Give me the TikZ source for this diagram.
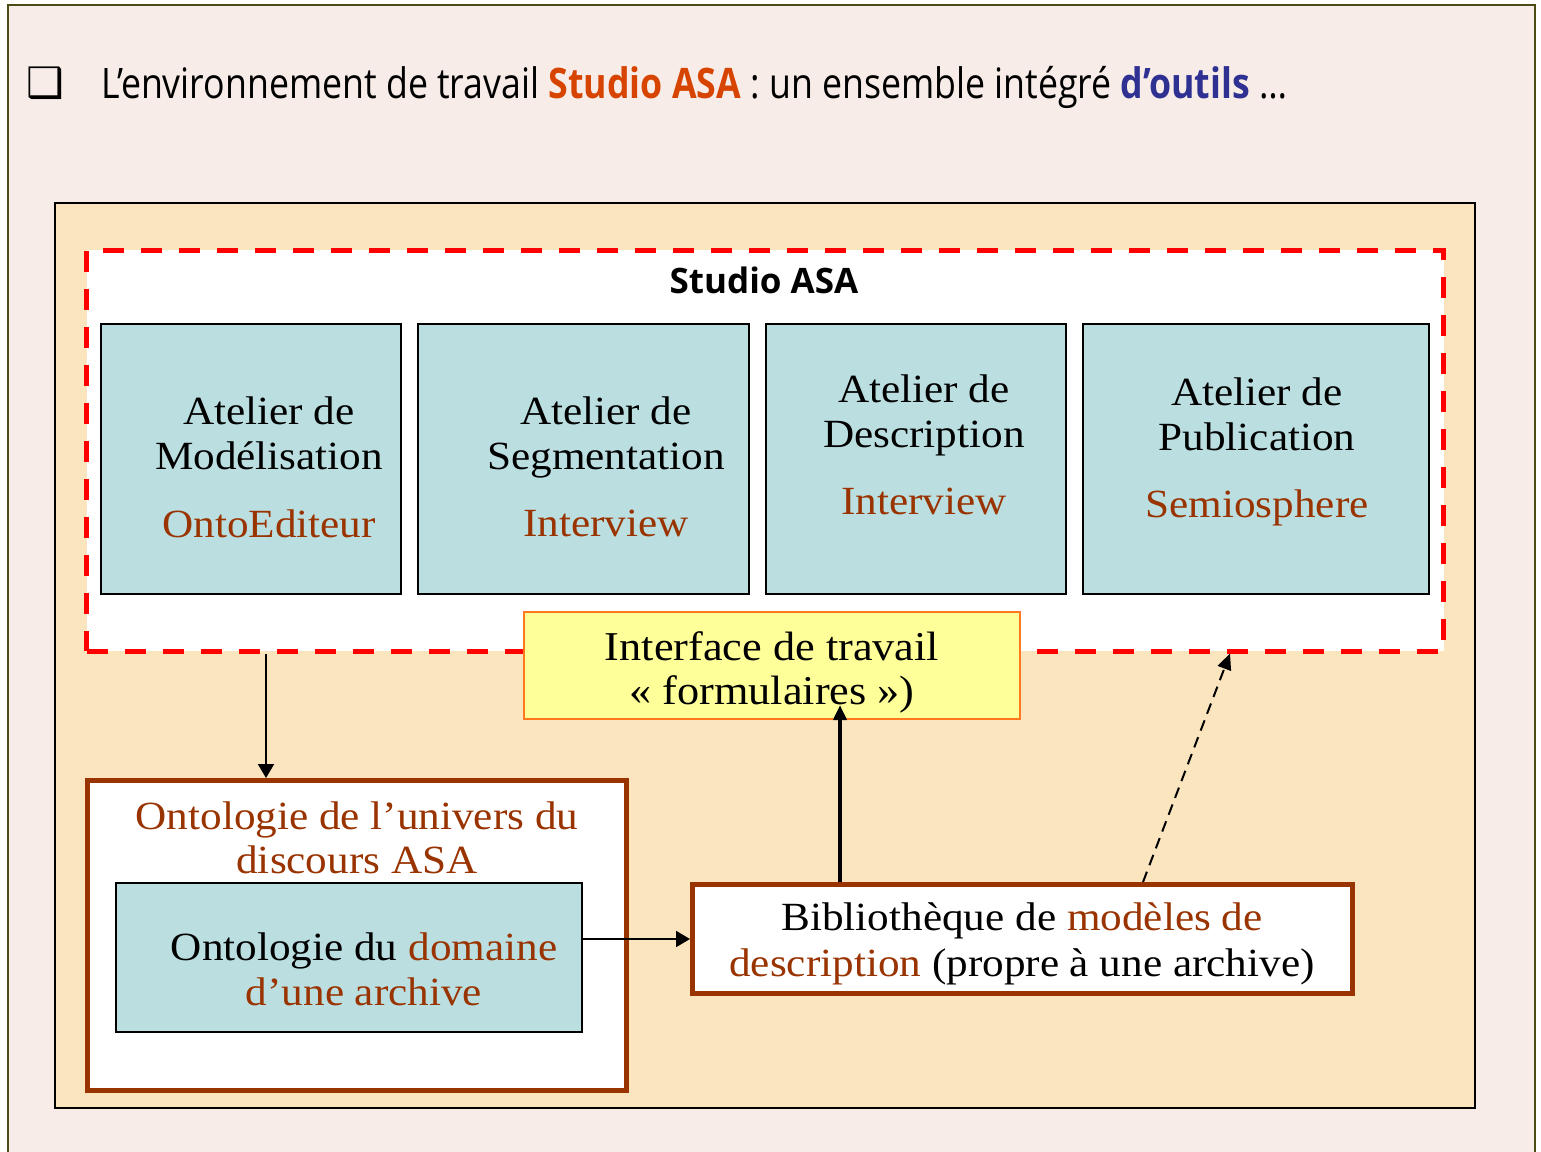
\documentclass[tikz,border=0pt]{standalone}
\usepackage{fontspec}
\setmainfont{Liberation Serif}[FakeStretch=1.08]
\newfontfamily\titlefont{Open Sans}[FakeStretch=0.85]
\newfontfamily\headfont{Open Sans}
\newfontfamily\symfont{DejaVu Sans}
\usetikzlibrary{arrows.meta,positioning}
\definecolor{pinkbg}{RGB}{247,236,231}
\definecolor{framecol}{RGB}{75,75,20}
\definecolor{wheatbg}{RGB}{250,229,191}
\definecolor{cyanbox}{RGB}{187,223,225}
\definecolor{yellowbox}{RGB}{255,255,153}
\definecolor{orangeline}{RGB}{255,120,30}
\definecolor{brn}{RGB}{153,51,0}
\definecolor{asaorange}{RGB}{214,68,0}
\definecolor{outilblue}{RGB}{46,49,146}
\begin{document}
\begin{tikzpicture}[x=0.5pt, y=-0.5pt,
  atelier/.style={draw, line width=0.75pt, fill=cyanbox, minimum height=135pt},
  txt/.style={inner sep=0pt, align=center, anchor=north, font=\fontsize{20}{22.5}\selectfont},
  brownbox/.style={draw=brn, line width=2.5pt, fill=white},
  arr/.style={-{Triangle[length=7pt,width=8pt]}, line width=1pt},
  bigarr/.style={-{Triangle[length=7.5pt,width=6.5pt]}, line width=2pt},
  dasharr/.style={-{Triangle[length=8pt,width=7pt]}, line width=1pt, dash pattern=on 5.5pt off 3.5pt}]
\useasboundingbox (0,0) rectangle (1541,1151);
\fill[white] (0,0) rectangle (1541,1151);
\draw[framecol, line width=1pt, fill=pinkbg] (8,5) rectangle (1535,1180);
\node[font=\symfont\fontsize{21}{21}\selectfont, inner sep=0pt, anchor=base] (chk) at (45,97) {❑};
\node[anchor=base west, inner sep=0pt, font=\titlefont\fontsize{21}{25}\selectfont] (title) at (101,98) {L’environnement de travail \textbf{\textcolor{asaorange}{Studio ASA}} : un ensemble intégré \textbf{\textcolor{outilblue}{d’outils}} …};
\node[draw, line width=1pt, fill=wheatbg, minimum width=710pt, minimum height=452.5pt] (env) at (765,655.5) {};
\node[draw=red, line width=2.5pt, dash pattern=on 10.5pt off 8.5pt, fill=white, minimum width=678.5pt, minimum height=200.5pt] (studio) at (765,450.5) {};
\node[anchor=base, inner sep=0pt, font=\headfont\bfseries\fontsize{17.5}{20}\selectfont] (studiolbl) at (764,293) {Studio ASA};
\node[atelier, minimum width=150pt] (modl) at (251,459) {};
\node[atelier, minimum width=165.5pt] (segm) at (583.5,459) {};
\node[atelier, minimum width=150pt] (desc) at (916,459) {};
\node[atelier, minimum width=173pt] (publ) at (1256,459) {};
\node[txt] (modltxt) at (269,396) {Atelier de\\Modélisation\\[11.5pt]\textcolor{brn}{OntoEditeur}};
\node[txt] (segmtxt) at (606,396) {Atelier de\\Segmentation\\[11pt]\textcolor{brn}{Interview}};
\node[txt] (desctxt) at (924,374) {Atelier de\\Description\\[11pt]\textcolor{brn}{Interview}};
\node[txt] (publtxt) at (1257,377) {Atelier de\\Publication\\[11pt]\textcolor{brn}{Semiosphere}};
\node[draw=orangeline, line width=1pt, fill=yellowbox, minimum width=248pt, minimum height=53.5pt] (iface) at (772,665.5) {};
\node[txt, font=\fontsize{20.5}{22}\selectfont] (ifacetxt) at (772,631) {Interface de travail\\« formulaires »)};
\node[brownbox, minimum width=269.5pt, minimum height=155pt] (onto) at (357,935.5) {};
\node[txt, font=\fontsize{20}{22}\selectfont, text=brn] (ontotxt) at (357,801) {Ontologie de l’univers du\\discours ASA};
\node[atelier, minimum width=233pt, minimum height=74.5pt] (dom) at (349,957.5) {};
\node[txt] (domtxt) at (364,932) {Ontologie du \textcolor{brn}{domaine}\\\textcolor{brn}{d’une archive}};
\node[brownbox, minimum width=330pt, minimum height=54.5pt] (bib) at (1022.5,939) {};
\node[txt, font=\fontsize{20}{23}\selectfont] (bibtxt) at (1022,902) {Bibliothèque de \textcolor{brn}{modèles de}\\\textcolor{brn}{description} (propre à une archive)};
\draw[arr] ([xshift=-45.5pt]onto.north |- studio.south) -- ([xshift=-45.5pt]onto.north);
\draw[arr] (dom.east |- bib.west) -- (bib.west);
\draw[bigarr, shorten >=-7.5pt] ([xshift=34pt]iface.south |- bib.north) -- ([xshift=34pt]iface.south);
\draw[dasharr] ([xshift=60.25pt]bib.north) -- ([xshift=232.5pt]studio.south);
\end{tikzpicture}
\end{document}
